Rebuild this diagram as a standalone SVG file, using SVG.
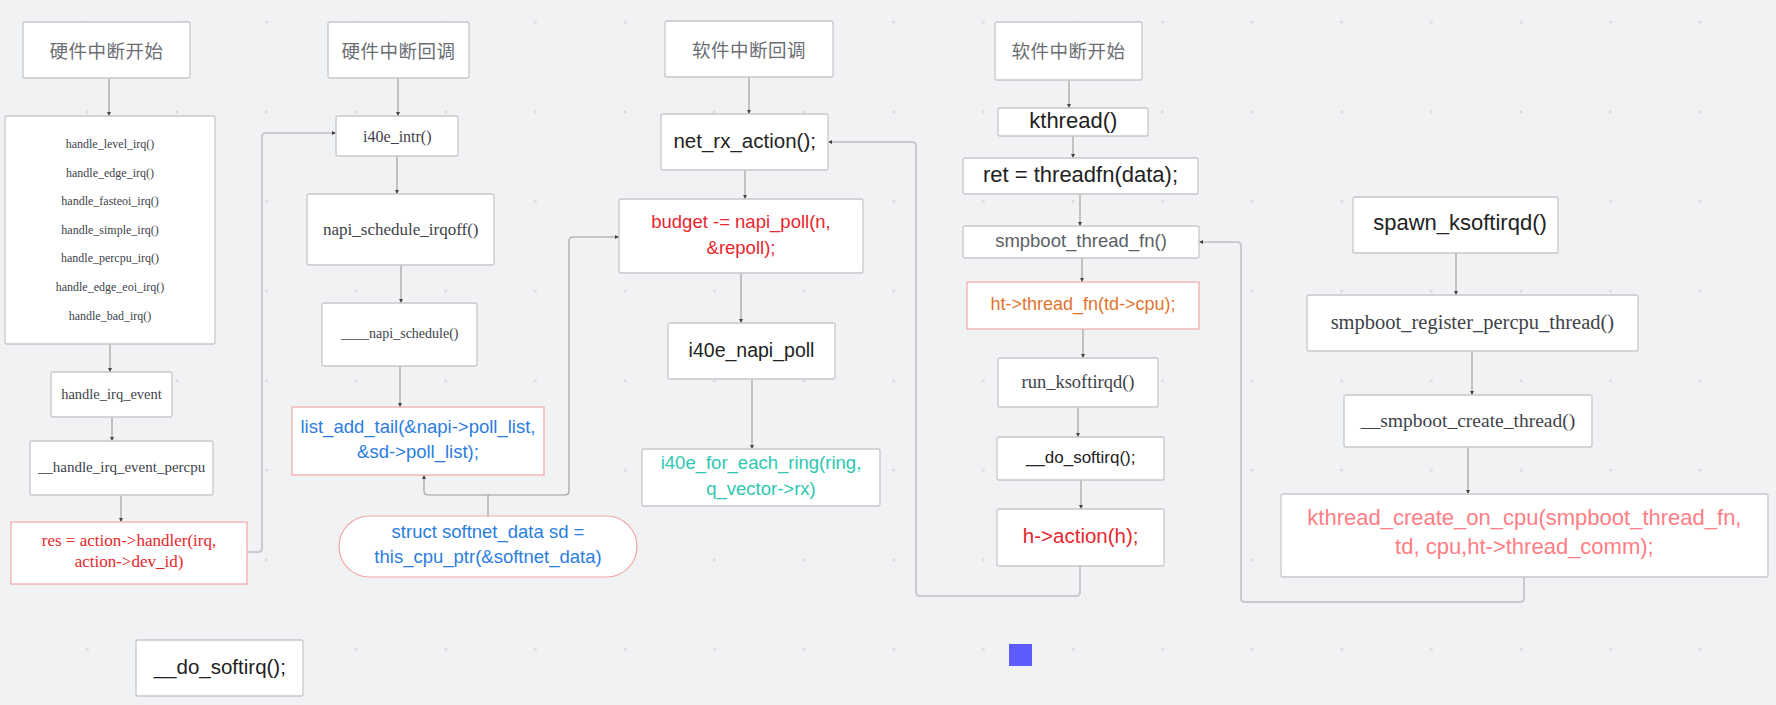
<svg xmlns="http://www.w3.org/2000/svg" width="1776" height="705" viewBox="0 0 1776 705">
<style>
.bg{fill:#f1f2f4}
.box{fill:#fff;stroke:#c6c8cc;stroke-width:1.3}
.pk{fill:#fff;stroke:#f2a7a7;stroke-width:1.2}
.cjk{font-family:"Noto Sans CJK SC","Liberation Sans",sans-serif;font-size:18.5px;fill:#6a6e74;letter-spacing:0.5px}
.sf{font-family:"Liberation Serif",serif;fill:#3e424a}
.ss{font-family:"Liberation Sans",sans-serif;fill:#222}
text{text-anchor:middle;dominant-baseline:central}
.c{fill:none;stroke:#9a9a9a;stroke-width:1.1}
.lp{fill:none;stroke:#c9cacd;stroke-width:2}
.red{fill:#e8262d}
.blue{fill:#2b7de0}
.teal{fill:#2ec8b0}
.org{fill:#e0732e}
.pink{fill:#ff7e84}
.gry{fill:#5a5f66}
</style>
<defs>
<pattern id="grid" patternUnits="userSpaceOnUse" x="42.5" y="-22.5" width="89.6" height="89.6">
<path d="M43.3 44.8h3M44.8 43.3v3" stroke="#c3c5c9" stroke-width="0.7"/>
</pattern>
<marker id="ah" viewBox="0 0 6 6" refX="6" refY="3" markerWidth="4" markerHeight="4" markerUnits="userSpaceOnUse" orient="auto">
<path d="M0 0L6 3L0 6z" fill="#444"/>
</marker>
</defs>
<rect class="bg" width="1776" height="705"/>
<rect width="1776" height="705" fill="url(#grid)"/>

<g id="connectors">
<path class="c" d="M109 78V116" marker-end="url(#ah)"/>
<path class="c" d="M110 344V372" marker-end="url(#ah)"/>
<path class="c" d="M112 417V441" marker-end="url(#ah)"/>
<path class="c" d="M121 495V522" marker-end="url(#ah)"/>
<path class="lp" d="M247 552H258Q262 552 262 548V137Q262 133 266 133H336" marker-end="url(#ah)"/>
<path class="c" d="M398 78V116" marker-end="url(#ah)"/>
<path class="c" d="M397 156V194" marker-end="url(#ah)"/>
<path class="c" d="M401 265V303" marker-end="url(#ah)"/>
<path class="c" d="M400 366V407" marker-end="url(#ah)"/>
<path class="c" d="M488 516V495H428Q424 495 424 491V475" marker-end="url(#ah)"/>
<path class="c" d="M488 495H565Q569 495 569 491V241Q569 237 573 237H619" marker-end="url(#ah)"/>
<path class="c" d="M749 77V114" marker-end="url(#ah)"/>
<path class="c" d="M745 170V199" marker-end="url(#ah)"/>
<path class="c" d="M741 273V323" marker-end="url(#ah)"/>
<path class="c" d="M752 379V449" marker-end="url(#ah)"/>
<path class="lp" d="M1080 566V592Q1080 596 1076 596H920Q916 596 916 592V146Q916 142 912 142H828" marker-end="url(#ah)"/>
<path class="c" d="M1069 80V108" marker-end="url(#ah)"/>
<path class="c" d="M1073 136V158" marker-end="url(#ah)"/>
<path class="c" d="M1080 194V226" marker-end="url(#ah)"/>
<path class="c" d="M1082 258V282" marker-end="url(#ah)"/>
<path class="c" d="M1083 329V358" marker-end="url(#ah)"/>
<path class="c" d="M1078 407V437" marker-end="url(#ah)"/>
<path class="c" d="M1081 480V509" marker-end="url(#ah)"/>
<path class="c" d="M1456 253V295" marker-end="url(#ah)"/>
<path class="c" d="M1472 351V395" marker-end="url(#ah)"/>
<path class="c" d="M1468 447V494" marker-end="url(#ah)"/>
<path class="lp" d="M1524 577V598Q1524 602 1520 602H1245Q1241 602 1241 598V246Q1241 242 1237 242H1199" marker-end="url(#ah)"/>
</g>

<g id="hw-start"><rect class="box" x="23" y="22" width="167" height="56" rx="2"/><text class="cjk" x="106.5" y="50">硬件中断开始</text></g>
<g id="handlers"><rect class="box" x="5" y="116" width="210" height="228" rx="2"/>
<text class="sf" font-size="12" x="110" y="144">handle_level_irq()</text>
<text class="sf" font-size="12" x="110" y="172.6">handle_edge_irq()</text>
<text class="sf" font-size="12" x="110" y="201.2">handle_fasteoi_irq()</text>
<text class="sf" font-size="12" x="110" y="229.8">handle_simple_irq()</text>
<text class="sf" font-size="12" x="110" y="258.4">handle_percpu_irq()</text>
<text class="sf" font-size="12" x="110" y="287">handle_edge_eoi_irq()</text>
<text class="sf" font-size="12" x="110" y="315.6">handle_bad_irq()</text></g>
<g id="handle-irq-event"><rect class="box" x="51" y="372" width="121" height="45" rx="2"/><text class="sf" font-size="14.5" x="111.5" y="394.3">handle_irq_event</text></g>
<g id="handle-irq-event-percpu"><rect class="box" x="30" y="441" width="183" height="54" rx="2"/><text class="sf" font-size="15" x="121.5" y="466.7">__handle_irq_event_percpu</text></g>
<g id="res"><rect class="pk" x="11" y="522" width="236" height="62"/><text class="sf red" font-size="17" x="129" y="540.3">res = action-&gt;handler(irq,</text><text class="sf red" font-size="17" x="129" y="561">action-&gt;dev_id)</text></g>
<g id="do-softirq-left"><rect class="box" x="136" y="640" width="167" height="56" rx="2"/><text class="ss" font-size="20.5" x="219.8" y="666.7">__do_softirq();</text></g>

<g id="hw-callback"><rect class="box" x="328" y="22" width="141" height="56" rx="2"/><text class="cjk" x="398.5" y="50">硬件中断回调</text></g>
<g id="i40e-intr"><rect class="box" x="336" y="116" width="122" height="40" rx="2"/><text class="sf" font-size="16" x="397.3" y="136.3">i40e_intr()</text></g>
<g id="napi-schedule-irqoff"><rect class="box" x="307" y="194" width="187" height="71" rx="2"/><text class="sf" font-size="17" x="400.8" y="229.3">napi_schedule_irqoff()</text></g>
<g id="napi-schedule"><rect class="box" x="322" y="303" width="155" height="63" rx="2"/><text class="sf" font-size="14" x="399.8" y="333.3">____napi_schedule()</text></g>
<g id="list-add-tail"><rect class="pk" x="292" y="407" width="252" height="68"/><text class="ss blue" font-size="18.5" x="418" y="426">list_add_tail(&amp;napi-&gt;poll_list,</text><text class="ss blue" font-size="18.5" x="418" y="451.7">&amp;sd-&gt;poll_list);</text></g>
<g id="softnet-data"><rect class="pk" x="339" y="516" width="298" height="61" rx="30.5"/><text class="ss blue" font-size="18.5" x="488" y="531">struct softnet_data sd =</text><text class="ss blue" font-size="18.5" x="488" y="556.7">this_cpu_ptr(&amp;softnet_data)</text></g>

<g id="sw-callback"><rect class="box" x="665" y="21" width="168" height="56" rx="2"/><text class="cjk" x="749" y="48.5">软件中断回调</text></g>
<g id="net-rx-action"><rect class="box" x="661" y="114" width="167" height="56" rx="2"/><text class="ss" font-size="20.5" x="744.7" y="140">net_rx_action();</text></g>
<g id="budget"><rect class="box" x="619" y="199" width="244" height="74" rx="2"/><text class="ss red" font-size="18.5" x="741" y="221.7">budget -= napi_poll(n,</text><text class="ss red" font-size="18.5" x="741" y="247.3">&amp;repoll);</text></g>
<g id="i40e-napi-poll"><rect class="box" x="668" y="323" width="167" height="56" rx="2"/><text class="ss" font-size="19.5" x="751.5" y="350">i40e_napi_poll</text></g>
<g id="for-each-ring"><rect class="box" x="642" y="449" width="238" height="57" rx="2"/><text class="ss teal" font-size="18.5" x="761" y="462.7">i40e_for_each_ring(ring,</text><text class="ss teal" font-size="18.5" x="761" y="488.7">q_vector-&gt;rx)</text></g>

<g id="sw-start"><rect class="box" x="995" y="22" width="147" height="58" rx="2"/><text class="cjk" x="1068.5" y="50">软件中断开始</text></g>
<g id="kthread"><rect class="box" x="998" y="108" width="150" height="28" rx="2"/><text class="ss" font-size="22" x="1073.3" y="120.7">kthread()</text></g>
<g id="threadfn"><rect class="box" x="963" y="158" width="235" height="36" rx="2"/><text class="ss" font-size="22" x="1080.5" y="174">ret = threadfn(data);</text></g>
<g id="smpboot-thread-fn"><rect class="box" x="963" y="226" width="236" height="32" rx="2"/><text class="ss gry" font-size="18.5" x="1081" y="240.7">smpboot_thread_fn()</text></g>
<g id="ht-thread-fn"><rect class="pk" x="967" y="282" width="232" height="47"/><text class="ss org" font-size="18" x="1083" y="304">ht-&gt;thread_fn(td-&gt;cpu);</text></g>
<g id="run-ksoftirqd"><rect class="box" x="998" y="358" width="160" height="49" rx="2"/><text class="sf" font-size="18.5" x="1078" y="381.7">run_ksoftirqd()</text></g>
<g id="do-softirq"><rect class="box" x="997" y="437" width="167" height="43" rx="2"/><text class="ss" font-size="17" x="1080.7" y="457.3">__do_softirq();</text></g>
<g id="h-action"><rect class="box" x="997" y="509" width="167" height="57" rx="2"/><text class="ss red" font-size="20.5" x="1080.7" y="535">h-&gt;action(h);</text></g>
<g id="blue-square"><rect x="1009" y="644" width="23" height="22" fill="#5c5cff"/></g>

<g id="spawn-ksoftirqd"><rect class="box" x="1353" y="197" width="205" height="56" rx="2"/><text class="ss" font-size="22" x="1460" y="222.7">spawn_ksoftirqd()</text></g>
<g id="smpboot-register"><rect class="box" x="1307" y="295" width="331" height="56" rx="2"/><text class="sf" font-size="20.5" x="1472.4" y="321.7">smpboot_register_percpu_thread()</text></g>
<g id="smpboot-create"><rect class="box" x="1344" y="395" width="248" height="52" rx="2"/><text class="sf" font-size="19.5" x="1468" y="420">__smpboot_create_thread()</text></g>
<g id="kthread-create-on-cpu"><rect class="box" x="1281" y="494" width="487" height="83" rx="2"/><text class="ss pink" font-size="22" x="1524.4" y="517.7">kthread_create_on_cpu(smpboot_thread_fn,</text><text class="ss pink" font-size="22" x="1524.4" y="546.7">td, cpu,ht-&gt;thread_comm);</text></g>
</svg>
